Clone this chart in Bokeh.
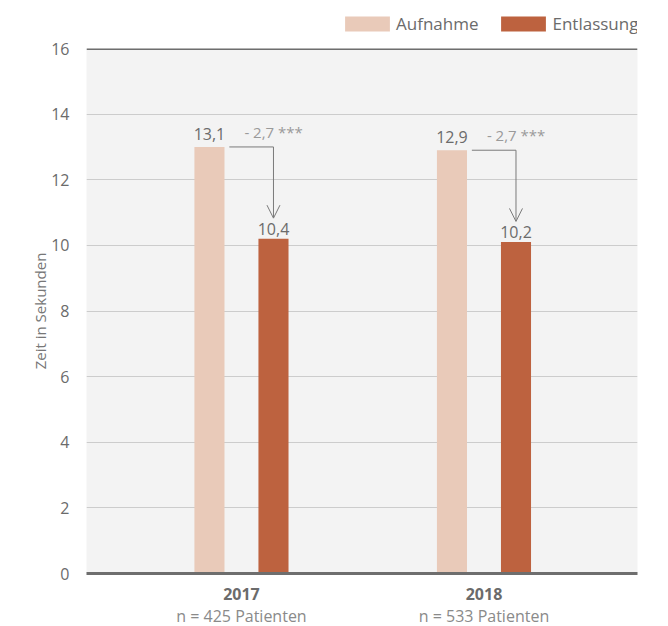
from bokeh.plotting import figure
from bokeh.layouts import column
from bokeh.embed import file_html
from bokeh.resources import INLINE
from bokeh.core.properties import value
from bokeh.models import (Range1d, FixedTicker, LinearAxis, Legend, LegendItem,
                          Span, Arrow, OpenHead, ColumnDataSource)

# ---- data ----
years = ["2017", "2018"]
patients = ["n = 425 Patienten", "n = 533 Patienten"]
series = ["Aufnahme", "Entlassung"]
aufnahme = [13.0, 12.9]
entlassung = [10.2, 10.1]
aufnahme_labels = ["13,1", "12,9"]
entlassung_labels = ["10,4", "10,2"]
delta_labels = ["- 2,7 ***", "- 2,7 ***"]
y_ticks = [0, 2, 4, 6, 8, 10, 12, 14, 16]

C_AUF = "#e9cab9"
C_ENT = "#bd623f"
FONT = "Open Sans"
TXT = "#6b6b6b"

group = list(range(len(years)))
off = 0.132
bw = 0.124

x_auf = [g - off for g in group]
x_ent = [g + off for g in group]

src = ColumnDataSource(dict(
    x_auf=x_auf, x_ent=x_ent, auf=aufnahme, ent=entlassung,
    auf_lab=aufnahme_labels, ent_lab=entlassung_labels, delta=delta_labels,
    x_conn0=[x + bw / 2 + 0.02 for x in x_auf],
    x_delta=[g + 0.012 for g in group],
    y_tip=[e + 0.63 for e in entlassung],
))

p = figure(frame_width=551, frame_height=525, output_backend="svg", toolbar_location=None,
           x_range=Range1d(-0.639, 1.633), y_range=Range1d(0, 16),
           x_axis_location=None, min_border_left=86, min_border_right=21,
           min_border_top=10, min_border_bottom=5)
p.background_fill_color = "#f3f3f3"
p.border_fill_color = "white"
p.outline_line_color = None

# y axis
p.yaxis.ticker = FixedTicker(ticks=y_ticks)
p.yaxis.axis_line_color = None
p.yaxis.major_tick_line_color = None
p.yaxis.minor_tick_line_color = None
p.yaxis.major_label_text_font = FONT
p.yaxis.major_label_text_font_size = "16px"
p.yaxis.major_label_text_color = TXT
p.yaxis.major_label_standoff = 11
p.yaxis.axis_label = "Zeit in Sekunden"
p.yaxis.axis_label_text_font = FONT
p.yaxis.axis_label_text_font_size = "15px"
p.yaxis.axis_label_text_font_style = "normal"
p.yaxis.axis_label_text_color = "#777777"
p.yaxis.axis_label_standoff = -2

p.xgrid.visible = False
p.ygrid.ticker = FixedTicker(ticks=y_ticks)
p.ygrid.grid_line_color = "#cccccc"
p.ygrid.grid_line_width = 1

# x axes (two rows of labels)
ax1 = LinearAxis(ticker=FixedTicker(ticks=group),
                 major_label_overrides={g: y for g, y in zip(group, years)})
ax1.axis_line_color = "#6e6e6e"
ax1.axis_line_width = 3
ax1.major_tick_line_color = None
ax1.minor_tick_line_color = None
ax1.major_label_text_font = FONT
ax1.major_label_text_font_size = "16px"
ax1.major_label_text_font_style = "bold"
ax1.major_label_text_color = TXT
ax1.major_label_standoff = 8
p.add_layout(ax1, "below")

ax2 = LinearAxis(ticker=FixedTicker(ticks=group),
                 major_label_overrides={g: t for g, t in zip(group, patients)})
ax2.axis_line_color = None
ax2.major_tick_line_color = None
ax2.minor_tick_line_color = None
ax2.major_label_text_font = FONT
ax2.major_label_text_font_size = "16px"
ax2.major_label_text_color = "#8a8a8a"
ax2.major_label_standoff = -4
p.add_layout(ax2, "below")

# top line
p.add_layout(Span(location=16, dimension="width", line_color="#6e6e6e", line_width=3))

# bars
r1 = p.vbar(x="x_auf", top="auf", width=bw, source=src, fill_color=C_AUF, line_color=None)
r2 = p.vbar(x="x_ent", top="ent", width=bw, source=src, fill_color=C_ENT, line_color=None)

# value labels
p.text(x="x_auf", y="auf", text="auf_lab", source=src, text_align="center",
       text_baseline="bottom", y_offset=-7, text_font=value(FONT),
       text_font_size="16px", text_color=TXT)
p.text(x="x_ent", y="ent", text="ent_lab", source=src, text_align="center",
       text_baseline="bottom", y_offset=-4, text_font=value(FONT),
       text_font_size="16px", text_color=TXT)
p.text(x="x_delta", y="auf", text="delta", source=src, text_align="left",
       text_baseline="bottom", y_offset=-5, text_font=value(FONT),
       text_font_size="15px", text_color="#9a9a9a")

# connector + arrow
p.segment(x0="x_conn0", y0="auf", x1="x_ent", y1="auf", source=src,
          line_color="#7a7a7a", line_width=1)
p.add_layout(Arrow(end=OpenHead(size=13, line_color="#7a7a7a", line_width=1),
                   x_start="x_ent", y_start="auf", x_end="x_ent", y_end="y_tip",
                   source=src, line_color="#7a7a7a", line_width=1))

# legend row (separate strip above the chart; frame aligned with the chart frame)
lg = figure(frame_width=551, height=38, output_backend="svg", toolbar_location=None,
            x_range=Range1d(0, 1), y_range=Range1d(0, 1),
            x_axis_location=None, y_axis_location=None, min_border=0,
            min_border_left=86, min_border_right=21)
lg.outline_line_color = None
lg.xgrid.visible = False
lg.ygrid.visible = False
key_src = ColumnDataSource(dict(x=[-1.0], top=[0.0]))  # off-screen key glyphs
lr1 = lg.vbar(x="x", top="top", width=0.1, source=key_src, fill_color=C_AUF, line_color=None)
lr2 = lg.vbar(x="x", top="top", width=0.1, source=key_src, fill_color=C_ENT, line_color=None)
legend = Legend(items=[LegendItem(label=series[0], renderers=[lr1]),
                       LegendItem(label=series[1], renderers=[lr2])],
                orientation="horizontal", location=(253, 3))
legend.glyph_width = 56
legend.glyph_height = 19
legend.label_standoff = 1
legend.spacing = 17
legend.padding = 0
legend.margin = 0
legend.border_line_color = None
legend.background_fill_alpha = 0
legend.label_text_font = FONT
legend.label_text_font_size = "17px"
legend.label_text_color = TXT
lg.add_layout(legend)

open("out.html", "w").write(file_html(column(lg, p, spacing=0), INLINE))
